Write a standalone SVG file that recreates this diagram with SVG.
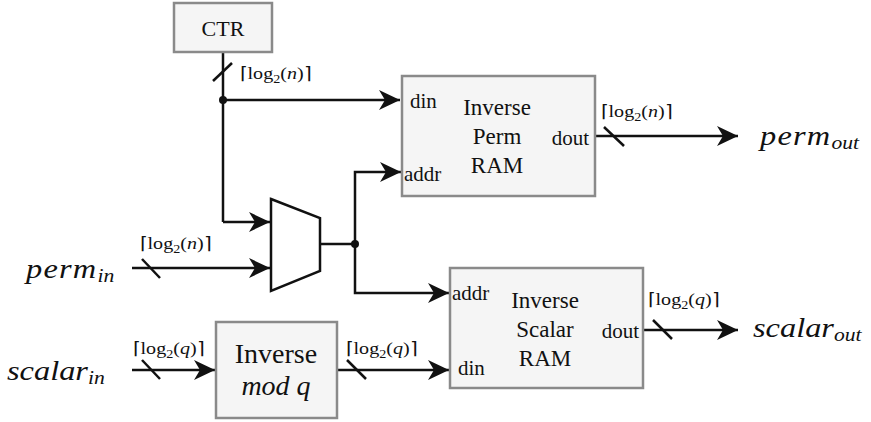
<svg xmlns="http://www.w3.org/2000/svg" width="871" height="422" viewBox="0 0 871 422">
  <style>
    .box { fill: #f5f5f5; stroke: #8a8a8a; stroke-width: 2.5; }
    .wire { fill: none; stroke: #111; stroke-width: 2.5; }
    .arr { marker-end: url(#head); }
    .slash { stroke: #111; stroke-width: 2.5; }
  </style>
  <defs>
    <marker id="head" markerUnits="userSpaceOnUse" viewBox="-22 -11 23 22" refX="0" refY="0" markerWidth="23" markerHeight="22" orient="auto">
      <path d="M0,0 L-21,-10 L-15,0 L-21,10 Z" fill="#111"/>
    </marker>
  </defs>

  <!-- connectors -->
  <g id="connectors">
    <!-- counter output: to RAM din and to mux -->
    <path class="wire" d="M223,52 V222"/>
    <path class="wire arr" d="M223,100 H400"/>
    <circle cx="223" cy="100" r="4" fill="#111"/>
    <line class="slash" x1="213" y1="81" x2="232" y2="63"/>
    <path class="wire arr" d="M223,222 H270"/>
    <!-- perm input to mux -->
    <path class="wire arr" d="M132,268 H270"/>
    <line class="slash" x1="142" y1="259" x2="160" y2="278"/>
    <!-- mux output to both RAM addr ports -->
    <path class="wire" d="M320,244 H355"/>
    <path class="wire arr" d="M355,244 V172 H401"/>
    <path class="wire arr" d="M355,244 V293 H449"/>
    <circle cx="355" cy="244" r="4" fill="#111"/>
    <!-- perm RAM output -->
    <path class="wire arr" d="M595,136 H738"/>
    <line class="slash" x1="604" y1="127" x2="624" y2="146"/>
    <!-- scalar input path -->
    <path class="wire arr" d="M132,370 H215"/>
    <line class="slash" x1="142" y1="360" x2="160" y2="379"/>
    <path class="wire arr" d="M337,370 H449"/>
    <line class="slash" x1="347" y1="360" x2="366" y2="379"/>
    <!-- scalar RAM output -->
    <path class="wire arr" d="M643,330 H738"/>
    <line class="slash" x1="653" y1="320" x2="672" y2="339"/>
  </g>

  <!-- bus width labels -->
  <g id="bus-labels" fill="#111">
    <text font-family="Liberation Serif" font-size="17" transform="translate(240,79) scale(1.18,1)">⌈log<tspan dy="4" font-size="12">2</tspan><tspan dy="-4">(</tspan><tspan font-style="italic">n</tspan>)⌉</text>
    <text font-family="Liberation Serif" font-size="17" transform="translate(140,249) scale(1.18,1)">⌈log<tspan dy="4" font-size="12">2</tspan><tspan dy="-4">(</tspan><tspan font-style="italic">n</tspan>)⌉</text>
    <text font-family="Liberation Serif" font-size="17" transform="translate(601,117) scale(1.18,1)">⌈log<tspan dy="4" font-size="12">2</tspan><tspan dy="-4">(</tspan><tspan font-style="italic">n</tspan>)⌉</text>
    <text font-family="Liberation Serif" font-size="17" transform="translate(133,354) scale(1.18,1)">⌈log<tspan dy="4" font-size="12">2</tspan><tspan dy="-4">(</tspan><tspan font-style="italic">q</tspan>)⌉</text>
    <text font-family="Liberation Serif" font-size="17" transform="translate(346,354) scale(1.18,1)">⌈log<tspan dy="4" font-size="12">2</tspan><tspan dy="-4">(</tspan><tspan font-style="italic">q</tspan>)⌉</text>
    <text font-family="Liberation Serif" font-size="17" transform="translate(648,305) scale(1.18,1)">⌈log<tspan dy="4" font-size="12">2</tspan><tspan dy="-4">(</tspan><tspan font-style="italic">q</tspan>)⌉</text>
  </g>

  <!-- signal names -->
  <g id="signals" fill="#111">
    <text font-family="Liberation Serif" font-style="italic" font-size="27" transform="translate(26,278) scale(1.2,1)" letter-spacing="1">perm<tspan dy="4" font-size="18" letter-spacing="0">in</tspan></text>
    <text font-family="Liberation Serif" font-style="italic" font-size="27" transform="translate(7,380) scale(1.2,1)">scalar<tspan dy="4" font-size="18">in</tspan></text>
    <text font-family="Liberation Serif" font-style="italic" font-size="27" transform="translate(760,145) scale(1.2,1)" letter-spacing="1">perm<tspan dy="4" font-size="18" letter-spacing="0">out</tspan></text>
    <text font-family="Liberation Serif" font-style="italic" font-size="27" transform="translate(753,337) scale(1.2,1)">scalar<tspan dy="4" font-size="18">out</tspan></text>
  </g>

  <g id="ctr">
    <rect class="box" x="174" y="3" width="98" height="49"/>
    <text font-family="Liberation Serif" x="223" y="36" font-size="22" text-anchor="middle" fill="#111">CTR</text>
  </g>

  <g id="mux">
    <polygon points="271,199 320,218 320,271 271,291" fill="#fff" stroke="#111" stroke-width="2.5" stroke-linejoin="miter"/>
  </g>

  <g id="perm-ram" fill="#111">
    <rect class="box" x="402" y="76" width="193" height="120"/>
    <text font-family="Liberation Serif" x="410" y="108" font-size="21">din</text>
    <text font-family="Liberation Serif" x="404" y="181" font-size="21">addr</text>
    <text font-family="Liberation Serif" x="589" y="145" font-size="21" text-anchor="end">dout</text>
    <text font-family="Liberation Serif" x="497" y="115" font-size="23" text-anchor="middle">Inverse</text>
    <text font-family="Liberation Serif" x="497" y="144" font-size="23" text-anchor="middle">Perm</text>
    <text font-family="Liberation Serif" x="497" y="173" font-size="23" text-anchor="middle">RAM</text>
  </g>

  <g id="scalar-ram" fill="#111">
    <rect class="box" x="450" y="268" width="193" height="120"/>
    <text font-family="Liberation Serif" x="452" y="300" font-size="21">addr</text>
    <text font-family="Liberation Serif" x="458" y="375" font-size="21">din</text>
    <text font-family="Liberation Serif" x="639" y="338" font-size="21" text-anchor="end">dout</text>
    <text font-family="Liberation Serif" x="545" y="308" font-size="23" text-anchor="middle">Inverse</text>
    <text font-family="Liberation Serif" x="545" y="337" font-size="23" text-anchor="middle">Scalar</text>
    <text font-family="Liberation Serif" x="545" y="366" font-size="23" text-anchor="middle">RAM</text>
  </g>

  <g id="inverse-mod" fill="#111">
    <rect class="box" x="216" y="322" width="121" height="96"/>
    <text font-family="Liberation Serif" x="276" y="363" font-size="28" text-anchor="middle">Inverse</text>
    <text font-family="Liberation Serif" x="276" y="395" font-size="28" font-style="italic" text-anchor="middle">mod q</text>
  </g>
</svg>
